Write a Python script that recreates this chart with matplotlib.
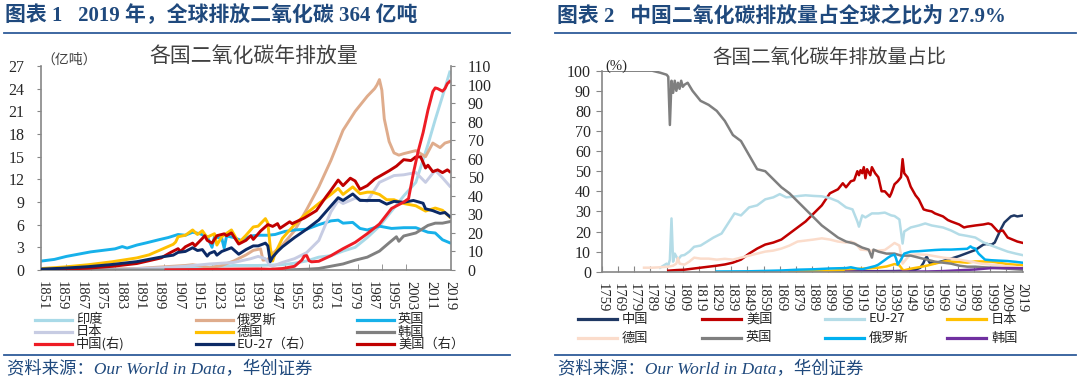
import matplotlib
matplotlib.use('Agg')
import matplotlib.pyplot as plt
from matplotlib.lines import Line2D

plt.rcParams['font.family'] = ['Liberation Serif', 'Noto Sans CJK SC']
CJK = ['Noto Sans CJK SC', 'DejaVu Sans']

# ---------------- 图表1 各国二氧化碳年排放量 (亿吨) ----------------
uk_years = [1851, 1856, 1861, 1866, 1871, 1876, 1881, 1884, 1886, 1890, 1894, 1899, 1903, 1907, 1910, 1913,
            1916, 1919, 1921, 1922, 1925, 1926, 1927, 1930, 1933, 1937, 1940, 1944, 1947, 1951, 1955, 1960,
            1965, 1970, 1973, 1975, 1979, 1982, 1985, 1990, 1995, 2000, 2005, 2010, 2013, 2016, 2019]
uk_vals = [1.2, 1.4, 1.8, 2.1, 2.4, 2.6, 2.8, 3.1, 2.9, 3.3, 3.6, 4.0, 4.3, 4.7, 4.6, 5.0,
           4.8, 4.4, 3.0, 4.4, 4.2, 2.9, 4.5, 4.3, 3.9, 4.5, 4.6, 4.6, 4.7, 5.1, 5.3, 5.4,
           6.0, 6.5, 6.6, 6.2, 6.3, 5.5, 5.3, 5.8, 5.5, 5.6, 5.6, 5.0, 4.9, 4.0, 3.6]

de_years = [1851, 1860, 1870, 1880, 1890, 1895, 1900, 1905, 1906, 1907, 1910, 1913, 1915, 1917, 1919, 1920,
            1922, 1923, 1925, 1929, 1932, 1935, 1938, 1940, 1943, 1944, 1945, 1946, 1947, 1950, 1955, 1960,
            1965, 1970, 1973, 1975, 1979, 1982, 1985, 1987, 1990, 1993, 1996, 2000, 2005, 2009, 2013, 2016, 2019]
de_vals = [0.2, 0.4, 0.7, 1.1, 1.6, 2.0, 2.7, 3.4, 3.7, 4.4, 4.6, 5.3, 4.7, 5.2, 4.3, 4.5,
           4.8, 3.3, 4.4, 5.3, 3.6, 4.6, 5.7, 5.8, 6.8, 6.2, 3.0, 1.2, 2.2, 4.2, 6.0, 7.5,
           8.8, 10.0, 10.8, 10.0, 11.0, 10.1, 10.3, 10.3, 10.0, 9.3, 9.3, 8.8, 8.5, 7.8, 8.2, 7.9, 7.0]

in_years = [1851, 1870, 1890, 1900, 1910, 1920, 1930, 1940, 1950, 1955, 1960, 1965, 1970, 1975, 1980, 1985,
            1990, 1995, 2000, 2005, 2010, 2013, 2016, 2019]
in_vals = [0.0, 0.0, 0.1, 0.2, 0.3, 0.4, 0.6, 0.6, 0.7, 0.9, 1.2, 1.7, 1.9, 2.5, 3.0, 4.3,
           5.8, 7.8, 9.8, 11.6, 16.6, 19.9, 23.0, 26.2]

ru_years = [1851, 1870, 1890, 1900, 1910, 1913, 1917, 1920, 1925, 1930, 1935, 1938, 1941, 1942, 1944, 1946,
            1950, 1955, 1960, 1965, 1970, 1975, 1980, 1985, 1988, 1989, 1990, 1991, 1992, 1994, 1996, 1998,
            2000, 2005, 2009, 2012, 2015, 2017, 2019]
ru_vals = [0.0, 0.1, 0.2, 0.4, 0.6, 0.7, 0.5, 0.3, 0.6, 1.2, 2.0, 2.6, 2.8, 1.3, 1.4, 2.2,
           3.3, 5.2, 8.0, 11.0, 14.5, 18.5, 21.0, 23.0, 24.0, 24.5, 25.2, 23.8, 20.0, 17.0, 15.5, 15.2,
           15.4, 15.8, 15.0, 16.8, 16.2, 16.8, 17.0]

jp_years = [1851, 1880, 1900, 1910, 1920, 1930, 1937, 1940, 1943, 1945, 1946, 1950, 1955, 1960, 1965, 1970,
            1973, 1975, 1980, 1985, 1990, 1996, 2000, 2005, 2009, 2013, 2016, 2019]
jp_vals = [0.0, 0.05, 0.3, 0.5, 0.8, 1.0, 1.5, 1.8, 1.5, 0.6, 0.5, 1.0, 1.5, 2.3, 3.9, 7.7,
           9.2, 8.8, 9.5, 9.1, 11.6, 12.5, 12.6, 12.9, 11.6, 13.2, 12.2, 11.1]

kr_years = [1851, 1950, 1960, 1965, 1970, 1975, 1980, 1985, 1990, 1994, 1997, 1998, 2000, 2005, 2010, 2013, 2016, 2019]
kr_vals = [0, 0, 0.1, 0.2, 0.5, 0.8, 1.3, 1.7, 2.5, 3.6, 4.4, 3.8, 4.5, 4.9, 5.9, 6.2, 6.2, 6.4]

cn_years = [1902, 1910, 1920, 1930, 1940, 1945, 1950, 1955, 1958, 1959, 1960, 1961, 1962, 1965, 1970, 1975,
            1980, 1985, 1990, 1995, 2000, 2002, 2004, 2006, 2008, 2010, 2012, 2013, 2014, 2016, 2017, 2018, 2019]
cn_vals = [0.1, 0.2, 0.3, 0.5, 0.6, 0.4, 0.8, 2.0, 5.3, 7.5, 7.8, 5.0, 4.4, 4.7, 7.7, 11.5,
           14.9, 19.6, 24.8, 33.2, 36.6, 38.5, 52.3, 64.2, 74.1, 86.2, 96.2, 98.2, 97.8, 96.4, 97.8, 100.5, 101.7]

eu_years = [1851, 1860, 1870, 1880, 1890, 1900, 1905, 1907, 1910, 1913, 1915, 1917, 1919, 1920, 1922, 1923,
            1925, 1929, 1932, 1935, 1938, 1940, 1943, 1944, 1945, 1946, 1948, 1950, 1955, 1960, 1965, 1970,
            1973, 1975, 1979, 1982, 1985, 1990, 1993, 1996, 2000, 2004, 2008, 2009, 2012, 2015, 2017, 2019]
eu_vals = [0.5, 1.0, 1.8, 3.0, 4.5, 7.0, 8.0, 9.5, 10.0, 12.0, 10.5, 11.0, 7.5, 9.0, 10.0, 8.0,
           10.0, 12.0, 8.5, 11.0, 13.0, 13.0, 14.5, 13.0, 4.5, 7.0, 10.0, 12.5, 17.5, 22.0, 27.0, 34.5,
           39.0, 37.5, 41.0, 37.5, 37.5, 37.5, 35.5, 37.0, 36.5, 37.5, 36.0, 33.0, 32.0, 30.5, 31.0, 28.8]

us_years = [1851, 1860, 1870, 1880, 1890, 1900, 1904, 1907, 1908, 1910, 1913, 1914, 1917, 1918, 1919, 1921,
            1923, 1926, 1927, 1929, 1932, 1935, 1937, 1938, 1941, 1944, 1946, 1948, 1949, 1953, 1954, 1959,
            1964, 1968, 1970, 1973, 1975, 1978, 1980, 1982, 1985, 1988, 1990, 1994, 1997, 2000, 2003, 2005,
            2007, 2009, 2010, 2012, 2014, 2016, 2018, 2019]
us_vals = [0.1, 0.5, 1.0, 2.0, 3.5, 6.5, 9.5, 11.5, 10.0, 12.5, 14.5, 13.0, 17.0, 18.5, 16.0, 14.5,
           18.5, 19.5, 18.5, 20.0, 14.0, 16.0, 18.5, 16.5, 21.0, 24.5, 23.5, 25.0, 22.5, 26.0, 25.0, 28.0,
           32.0, 39.5, 43.0, 48.5, 45.5, 49.5, 48.0, 43.5, 45.5, 49.0, 50.5, 53.5, 56.0, 59.5, 59.0, 61.0,
           61.0, 55.0, 56.5, 53.0, 54.0, 52.5, 54.0, 53.0]

left_xticklabels = list(range(1851, 2020, 8))

# ---------------- 图表2 各国二氧化碳年排放量占比 (%) ----------------
s_cn_years = [1900, 1920, 1940, 1950, 1953, 1956, 1958, 1959, 1960, 1961, 1962, 1965, 1970, 1975, 1980,
              1985, 1990, 1995, 1997, 2000, 2002, 2004, 2006, 2008, 2010, 2012, 2014, 2016, 2018, 2019]
s_cn_vals = [0.05, 0.2, 0.3, 0.6, 1.0, 2.0, 4.5, 6.5, 7.5, 5.5, 4.2, 4.3, 5.3, 6.5, 7.8,
             9.3, 10.8, 13.5, 13.8, 13.4, 14.5, 18, 21.5, 24.5, 26.0, 27.5, 28.0, 27.5, 27.8, 27.9]

s_us_years = [1800, 1805, 1810, 1815, 1820, 1825, 1830, 1835, 1840, 1845, 1850, 1855, 1860, 1865, 1870,
              1875, 1880, 1885, 1890, 1895, 1900, 1905, 1908, 1910, 1913, 1915, 1917, 1918, 1919, 1920,
              1921, 1922, 1923, 1925, 1926, 1928, 1930, 1932, 1934, 1937, 1938, 1940, 1942, 1944, 1945,
              1946, 1948, 1950, 1953, 1955, 1958, 1960, 1963, 1965, 1970, 1973, 1975, 1980, 1983, 1985,
              1990, 1995, 1998, 2000, 2004, 2007, 2010, 2013, 2016, 2019]
s_us_vals = [0.5, 0.8, 1, 1.5, 2, 2.5, 3, 3.6, 4.5, 6, 9, 11.5, 13.5, 14.5, 16,
             19, 22, 25, 29, 33, 39, 41, 44, 42, 45, 45.5, 50, 48, 50.5, 49,
             52, 46.5, 51, 48, 52, 49, 47, 40, 40, 37.3, 39, 43.5, 45, 47, 56,
             49, 47, 42.3, 38, 36, 31, 30.5, 30, 29, 27.5, 25.7, 25, 23.5, 22, 22.4,
             23, 23.5, 24, 23.5, 20, 20.5, 17, 16, 15, 14.4]

s_eu_years = [1795, 1797, 1799, 1800, 1801, 1802, 1803, 1804, 1806, 1808, 1810, 1813, 1816, 1820, 1824,
              1828, 1833, 1837, 1841, 1845, 1850, 1855, 1860, 1865, 1869, 1873, 1877, 1881, 1885, 1890,
              1895, 1900, 1905, 1910, 1914, 1917, 1918, 1920, 1922, 1926, 1930, 1934, 1938, 1940, 1943,
              1945, 1946, 1948, 1950, 1955, 1959, 1963, 1970, 1975, 1980, 1985, 1990, 1995, 2000, 2005,
              2010, 2015, 2019]
s_eu_vals = [2, 3, 4, 3, 6, 26.5, 5, 9, 6, 8, 8.3, 10, 12.4, 13, 15,
             17, 19, 24, 29, 28, 32, 33, 36, 37, 38.6, 37, 37.3, 37.7, 38, 37.7,
             37.5, 36.6, 35, 32, 31, 25, 22.4, 28, 27, 29, 29, 29.4, 28, 27.7, 26,
             14, 20, 21, 22, 23, 24, 23, 22, 20.5, 18.5, 17.8, 17, 14.6, 13, 11.5,
             10, 9, 8.3]

s_jp_years = [1875, 1890, 1900, 1910, 1915, 1920, 1925, 1930, 1935, 1938, 1940, 1943, 1945, 1946, 1950,
              1955, 1960, 1965, 1970, 1973, 1975, 1980, 1985, 1990, 1995, 2000, 2005, 2010, 2015, 2019]
s_jp_vals = [0.1, 0.3, 0.5, 0.9, 1.3, 1.5, 1.7, 2, 2.6, 3.3, 3.8, 3.2, 1, 0.7, 1.5,
             2.2, 3, 4, 5, 5.4, 5, 4.8, 4.5, 5.1, 5.1, 5, 4.4, 3.8, 3.5, 3.2]

s_de_years = [1785, 1790, 1795, 1800, 1803, 1805, 1806, 1807, 1810, 1813, 1816, 1820, 1825, 1830, 1835,
              1840, 1845, 1850, 1855, 1860, 1865, 1870, 1875, 1880, 1885, 1890, 1895, 1900, 1905, 1910,
              1913, 1916, 1919, 1922, 1925, 1930, 1934, 1937, 1940, 1943, 1945, 1946, 1948, 1950, 1955,
              1960, 1965, 1970, 1975, 1980, 1985, 1990, 1995, 2000, 2005, 2010, 2015, 2019]
s_de_vals = [2, 2, 2.2, 2.5, 3, 4, 6.8, 4, 3.5, 5, 7, 6.5, 6.5, 6, 6.4,
             6, 7, 8, 9, 10, 10.5, 11.5, 13, 15, 15.5, 16, 16.6, 16, 15, 14.5,
             15, 14, 11, 10.8, 10.5, 10.5, 10.8, 12.5, 14.3, 13, 4, 5, 7, 8.4, 8.6,
             8.4, 7.7, 7, 6.5, 6, 5.3, 4.6, 3.8, 3.5, 3.1, 2.6, 2.3, 2.0]

s_uk_years = [1759, 1770, 1780, 1790, 1795, 1799, 1800, 1801, 1802, 1803, 1804, 1805, 1806, 1807, 1808,
              1809, 1810, 1812, 1815, 1820, 1825, 1830, 1835, 1840, 1845, 1850, 1855, 1860, 1865, 1870,
              1875, 1880, 1885, 1890, 1895, 1900, 1905, 1910, 1915, 1920, 1924, 1926, 1927, 1930, 1935,
              1940, 1944, 1947, 1950, 1955, 1960, 1965, 1970, 1975, 1980, 1985, 1990, 1995, 2000, 2005,
              2010, 2015, 2019]
s_uk_vals = [100, 100, 100, 100, 99, 98, 97, 73, 95, 89, 95, 90, 94, 91, 95,
             92, 93, 94, 90, 85, 83, 80, 75, 68, 65, 58, 51, 50, 46, 42,
             39, 35, 31, 27, 23, 20, 17, 15, 14, 12, 11, 7, 11, 10, 9,
             9, 8, 8, 8, 7, 6, 5, 4.5, 4, 3, 2.5, 2.5, 2.2, 2, 1.8,
             1.5, 1.2, 1.0]

s_ru_years = [1830, 1850, 1870, 1880, 1890, 1900, 1910, 1913, 1917, 1920, 1925, 1928, 1930, 1934, 1936,
              1938, 1940, 1941, 1942, 1944, 1946, 1948, 1950, 1955, 1960, 1965, 1970, 1975, 1980, 1985,
              1987, 1988, 1990, 1992, 1994, 1996, 2000, 2005, 2010, 2015, 2019]
s_ru_vals = [0.1, 0.2, 0.6, 1, 1.2, 1.6, 1.8, 2.2, 1.5, 1.2, 2.2, 2.8, 3.5, 5.8, 7.0,
             8.0, 8.5, 6.5, 3.5, 6, 9, 9.5, 10, 10.2, 10.5, 10.8, 11, 11, 11.2, 11.4,
             12.6, 12.0, 11.5, 9, 7.5, 6.0, 5.7, 5.5, 5.3, 4.9, 4.5]

s_kr_years = [1910, 1950, 1960, 1970, 1980, 1990, 2000, 2010, 2019]
s_kr_vals = [0.05, 0.1, 0.1, 0.3, 0.7, 1.1, 1.8, 1.8, 1.7]

right_xticklabels = list(range(1759, 2020, 10))

# ---------------- figure ----------------
W, H = 1080, 381
fig = plt.figure(figsize=(W / 100, H / 100), dpi=100)
navy = '#1F497D'
axis_gray = '#868686'


def fx(px):
    return px / W


def fy(py):
    return 1 - py / H


# titles, rules, source
fig.text(fx(5), fy(16), '图表 1   2019 年，全球排放二氧化碳 364 亿吨', fontsize=15, fontweight='bold',
         color=navy, va='center', ha='left')
fig.text(fx(557), fy(16), '图表 2   中国二氧化碳排放量占全球之比为 27.9%', fontsize=15, fontweight='bold',
         color=navy, va='center', ha='left')
for x0, x1 in [(4, 510), (555, 1076)]:
    fig.add_artist(Line2D([fx(x0), fx(x1)], [fy(33), fy(33)], color='#2E5C9A', lw=1.3))
    fig.add_artist(Line2D([fx(x0), fx(x1)], [fy(354.5), fy(354.5)], color='#2E5C9A', lw=1.3))
fig.text(fx(7), fy(370), '资料来源：Our World in Data，华创证券', fontsize=12.5, style='italic',
         color=navy, va='center', ha='left')
fig.text(fx(558), fy(370), '资料来源：Our World in Data，华创证券', fontsize=12.5, style='italic',
         color=navy, va='center', ha='left')

fig.text(fx(254), fy(57), '各国二氧化碳年排放量', fontsize=15, family=CJK, color='#404040',
         va='center', ha='center')
fig.text(fx(829), fy(57), '各国二氧化碳年排放量占比', fontsize=14, family=CJK, color='#404040',
         va='center', ha='center')
fig.text(fx(69), fy(60), '（亿吨）', fontsize=10, family=CJK, color='#404040', va='center', ha='center')
fig.text(fx(616), fy(66), '(%)', fontsize=10.5, color='#262626', va='center', ha='center')

# ---------- left chart ----------
ax = fig.add_axes([fx(41), fy(270), fx(451) - fx(41), fy(66) - fy(270)])
ax2 = ax.twinx()
ax2.set_position(ax.get_position())

left_series = [
    ('印度', in_years, in_vals, '#A9DAE8', ax),
    ('俄罗斯', ru_years, ru_vals, '#DFAC8C', ax),
    ('英国', uk_years, uk_vals, '#17B1EA', ax),
    ('日本', jp_years, jp_vals, '#C7CCE3', ax),
    ('德国', de_years, de_vals, '#FFC000', ax),
    ('韩国', kr_years, kr_vals, '#808080', ax),
    ('美国（右）', us_years, us_vals, '#C00000', ax2),
    ('EU-27（右）', eu_years, eu_vals, '#0C2A66', ax2),
    ('中国(右)', cn_years, cn_vals, '#EE1C25', ax2),
]
for name, yrs, vals, col, a in left_series:
    a.plot(yrs, vals, color=col, lw=2.1, solid_joinstyle='round')

ax.set_xlim(1850.5, 2019.5)
ax.set_ylim(0, 27)
ax2.set_ylim(0, 110)
ax.set_yticks(range(0, 28, 3))
ax2.set_yticks(range(0, 111, 10))
ax.set_xticks(left_xticklabels)
ax.set_xticklabels([str(y) for y in left_xticklabels], rotation=-90, fontsize=10.5)
ax.set_xticks(range(1851, 2020, 10), minor=True)
ax.tick_params(axis='x', which='major', length=0, pad=8, colors='#262626')
ax.tick_params(axis='x', which='minor', direction='in', length=4, color=axis_gray)
ax.tick_params(axis='y', direction='out', length=3, pad=9, labelsize=11.5, color=axis_gray, labelcolor='#262626')
ax2.tick_params(axis='y', direction='out', length=3, pad=9, labelsize=11.5, color=axis_gray, labelcolor='#262626')
for s in ['top', 'right']:
    ax.spines[s].set_visible(False)
for s in ['top', 'left', 'bottom']:
    ax2.spines[s].set_visible(False)
for sp in [ax.spines['left'], ax.spines['bottom'], ax2.spines['right']]:
    sp.set_color(axis_gray)
    sp.set_linewidth(1.2)

# left legend (3 columns, row-major as in the reference)
left_legend_order = ['印度', '俄罗斯', '英国', '日本', '德国', '韩国', '中国(右)', 'EU-27（右）', '美国（右）']
colors_by_name = {n: c for n, _, _, c, _ in left_series}
col_x = [35, 196, 357]
row_y = [320, 332, 344]
for i, name in enumerate(left_legend_order):
    x0 = col_x[i % 3]
    y0 = row_y[i // 3]
    fig.add_artist(Line2D([fx(x0), fx(x0 + 37)], [fy(y0), fy(y0)], color=colors_by_name[name], lw=2.3))
    fig.text(fx(x0 + 41), fy(y0), name, fontsize=9.5, family=CJK, color='#262626', va='center', ha='left')

# ---------- right chart ----------
bx = fig.add_axes([fx(602), fy(271.7), fx(1023) - fx(602), fy(70.7) - fy(271.7)])
right_series = [
    ('中国', s_cn_years, s_cn_vals, '#1F3864'),
    ('美国', s_us_years, s_us_vals, '#C00000'),
    ('EU-27', s_eu_years, s_eu_vals, '#B4DCE7'),
    ('日本', s_jp_years, s_jp_vals, '#FFC000'),
    ('德国', s_de_years, s_de_vals, '#FBDCCB'),
    ('英国', s_uk_years, s_uk_vals, '#7F7F7F'),
    ('俄罗斯', s_ru_years, s_ru_vals, '#00B0F0'),
    ('韩国', s_kr_years, s_kr_vals, '#7030A0'),
]
for name, yrs, vals, col in right_series:
    bx.plot(yrs, vals, color=col, lw=1.8, solid_joinstyle='round')

bx.set_xlim(1759, 2019.5)
bx.set_ylim(0, 100)
bx.set_yticks(range(0, 101, 10))
bx.set_xticks(right_xticklabels)
bx.set_xticklabels([str(y) for y in right_xticklabels], rotation=-90, fontsize=10.5)
bx.tick_params(axis='x', direction='in', length=4, pad=8, color=axis_gray, labelcolor='#262626')
bx.tick_params(axis='y', direction='out', length=4, pad=4, labelsize=11.5, color=axis_gray, labelcolor='#262626')
for s in ['top', 'right']:
    bx.spines[s].set_visible(False)
for s in ['left', 'bottom']:
    bx.spines[s].set_color(axis_gray)
    bx.spines[s].set_linewidth(1.2)

col_x2 = [578, 702, 825, 947]
row_y2 = [319, 338]
for i, (name, _, _, col) in enumerate(right_series):
    x0 = col_x2[i % 4]
    y0 = row_y2[i // 4]
    fig.add_artist(Line2D([fx(x0), fx(x0 + 39)], [fy(y0), fy(y0)], color=col, lw=2.3))
    fig.text(fx(x0 + 44), fy(y0), name, fontsize=9.5, family=CJK, color='#262626', va='center', ha='left')

fig.savefig('out.png', dpi=100)
